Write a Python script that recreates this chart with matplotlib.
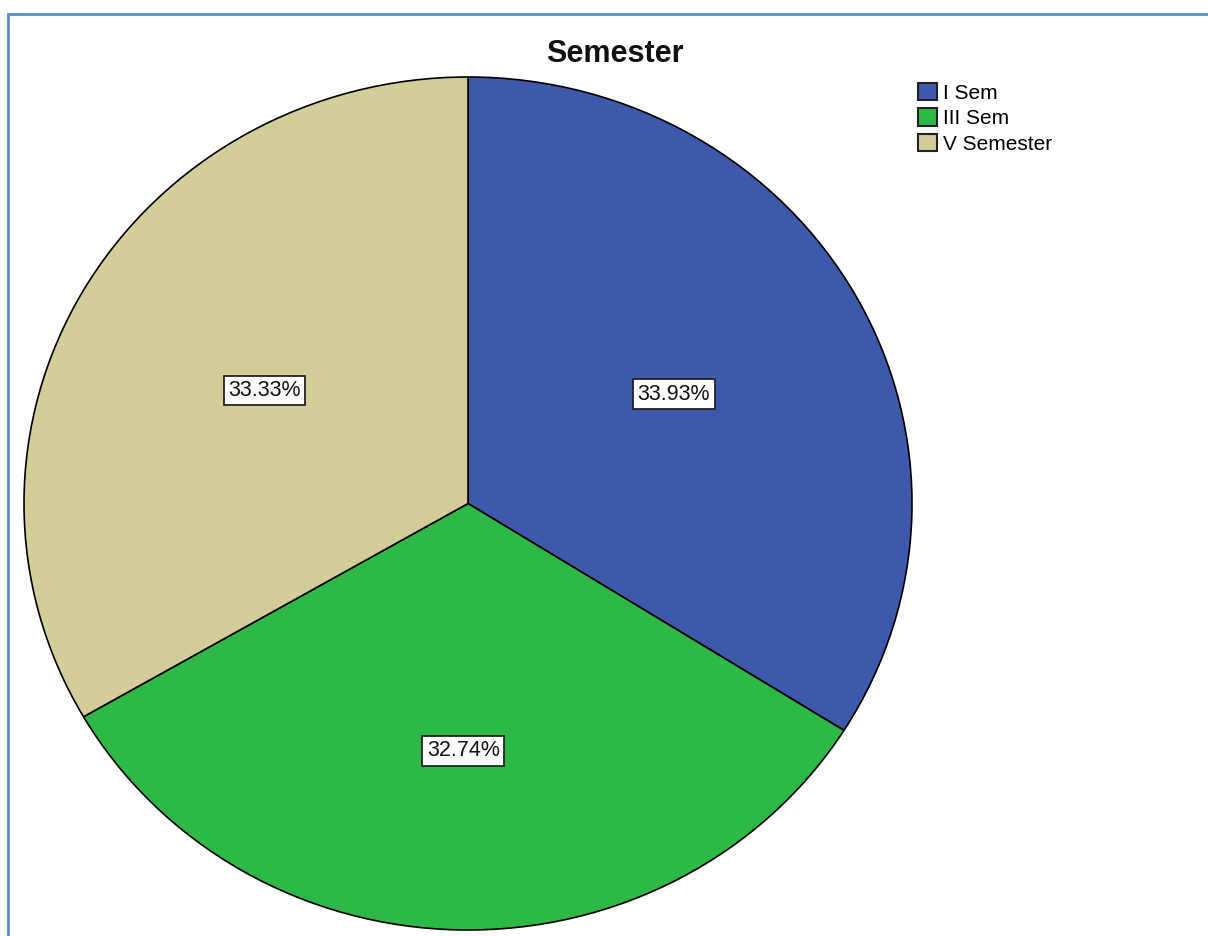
import matplotlib
matplotlib.use('Agg')
import matplotlib.pyplot as plt
import numpy as np
from matplotlib.patches import Rectangle

# Data
labels = ['I Sem', 'III Sem', 'V Semester']
counts = [57, 55, 56]   # 33.93%, 32.74%, 33.33%
colors = ['#3E58AC', '#2EB848', '#D3CE97']

plt.rcParams['font.family'] = ['Liberation Sans', 'DejaVu Sans']

W, H = 1208, 936
fig = plt.figure(figsize=(W / 100, H / 100), dpi=100)

# blue frame around the chart area (only top and left visible)
fig.patches.append(Rectangle((8 / W, -0.05), 1.2, (H - 14) / H + 0.05,
                             transform=fig.transFigure, fill=False,
                             edgecolor='#5B8BC9', linewidth=2))

# pie occupies an elliptical area (x 24..912, y 77..930 px)
ax = fig.add_axes([24 / W, (H - 930) / H, 888 / W, 853 / H])
wedges, texts, autotexts = ax.pie(
    counts, colors=colors, startangle=90, counterclock=False,
    autopct='%1.2f%%', pctdistance=0.53, radius=1,
    wedgeprops=dict(edgecolor='black', linewidth=1.2),
    textprops=dict(fontsize=15.5, color='#111111'))
ax.set_aspect('auto')
ax.set_xlim(-1, 1)
ax.set_ylim(-1, 1)
ax.axis('off')
for w in wedges:
    w.set_clip_on(False)

# label distance per slice (SPSS puts the bottom one a bit lower)
label_r = [0.53, 0.58, 0.53]
for w, t, r in zip(wedges, autotexts, label_r):
    mid = np.deg2rad((w.theta1 + w.theta2) / 2)
    t.set_position((r * np.cos(mid), r * np.sin(mid)))
    t.set_bbox(dict(boxstyle='square,pad=0.2', facecolor='white',
                    edgecolor='#222222', linewidth=1.3))

fig.text(615 / W, 1 - 54 / H, 'Semester', ha='center', va='center',
         fontsize=22, fontweight='bold', color='#111111')

leg = fig.legend(wedges, labels, loc='upper left',
                 bbox_to_anchor=(918 / W, 1 - 83 / H),
                 frameon=False, fontsize=15, handlelength=0.9,
                 handleheight=0.9, handletextpad=0.3, labelspacing=0.27,
                 borderpad=0.0, borderaxespad=0.0)
for p in leg.get_patches():
    p.set_edgecolor('#222222')
    p.set_linewidth(1.5)

fig.savefig('out.png', dpi=100)
